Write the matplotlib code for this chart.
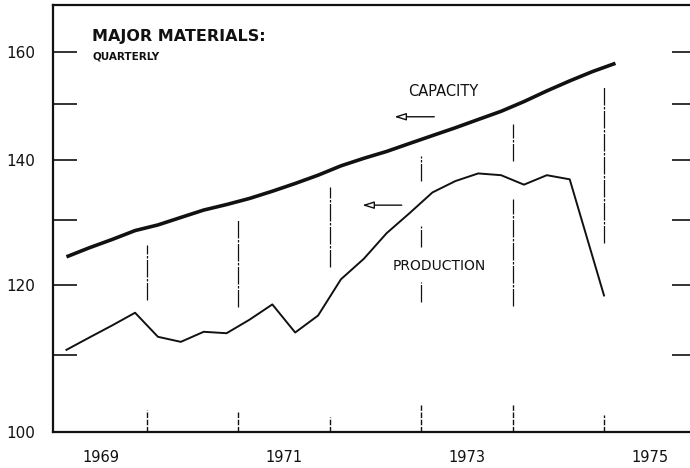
import numpy as np
import matplotlib.pyplot as plt
from matplotlib.ticker import FixedLocator, NullFormatter

# quarterly index values (log scale)
cap_x = [1969.125, 1969.375, 1969.625, 1969.875,
         1970.125, 1970.375, 1970.625, 1970.875,
         1971.125, 1971.375, 1971.625, 1971.875,
         1972.125, 1972.375, 1972.625, 1972.875,
         1973.125, 1973.375, 1973.625, 1973.875,
         1974.125, 1974.375, 1974.625, 1974.875,
         1975.125]
capacity = [124.2, 125.6, 126.9, 128.3,
            129.2, 130.4, 131.6, 132.5,
            133.5, 134.7, 136.0, 137.4,
            139.0, 140.3, 141.5, 142.9,
            144.3, 145.7, 147.2, 148.7,
            150.5, 152.5, 154.4, 156.2,
            157.8]

prod_x = [1969.125, 1969.375, 1969.625, 1969.875,
          1970.125, 1970.375, 1970.625, 1970.875,
          1971.125, 1971.375, 1971.625, 1971.875,
          1972.125, 1972.375, 1972.625, 1972.875,
          1973.125, 1973.375, 1973.625, 1973.875,
          1974.125, 1974.375, 1974.625, 1975.0]
production = [110.7, 112.4, 114.1, 115.9,
              112.5, 111.8, 113.2, 113.0,
              114.9, 117.1, 113.1, 115.5,
              120.8, 123.9, 127.9, 131.1,
              134.5, 136.4, 137.7, 137.4,
              135.8, 137.4, 136.7, 118.4]

# year guide lines drawn between / below the curves
guide_years = [1970, 1971, 1972, 1973, 1973, 1973, 1974, 1974, 1975]
guide_lo = [117.7, 116.7, 122.6, 136.4, 125.7, 117.4, 139.8, 116.9, 126.4]
guide_hi = [126.0, 130.0, 135.4, 140.7, 129.1, 120.4, 146.4, 133.4, 153.4]

# short year marks on the bottom axis
mark_years = [1970, 1971, 1972, 1973, 1974, 1975]
mark_top = [102.8, 102.6, 101.9, 103.4, 103.4, 102.1]

year_labels = ['1969', '1971', '1973', '1975']
year_label_pos = [1969.5, 1971.5, 1973.5, 1975.5]
y_major = [100, 120, 140, 160]
y_minor = [110, 130, 150]

ink = '#111111'
fig = plt.figure(figsize=(6.9, 4.68), dpi=100)
ax = fig.add_axes([0.0764, 0.0769, 0.9316, 0.9124])
ax.set_yscale('log')
ax.set_xlim(1968.975, 1976.0)
ax.set_ylim(100, 169.6)

ax.plot(cap_x, capacity, color=ink, lw=2.6, solid_capstyle='butt')
ax.plot(prod_x, production, color=ink, lw=1.4)

ax.vlines(guide_years, guide_lo, guide_hi, color=ink, lw=0.9,
          linestyles=[(0, (14, 1.2, 2, 1.2))])
ax.vlines(mark_years, 100, mark_top, color=ink, lw=1.0,
          linestyles=[(0, (4, 1.2))])

# arrows pointing to the left scale
arrow = dict(arrowstyle='-|>,head_length=0.7,head_width=0.22',
             fc='white', ec=ink, lw=1.0, shrinkA=0, shrinkB=0)
ax.annotate('', xy=(1972.708, 147.7), xytext=(1973.145, 147.7), arrowprops=arrow)
ax.annotate('', xy=(1972.358, 132.4), xytext=(1972.789, 132.4), arrowprops=arrow)

ax.text(1972.854, 152.4, 'CAPACITY', fontsize=10.5, va='center', color=ink)
ax.text(1972.686, 122.8, 'PRODUCTION', fontsize=10, va='center', color=ink)
ax.text(1969.408, 163.1, 'MAJOR MATERIALS:', fontsize=11.5, fontweight='bold',
        va='center', color=ink)
ax.text(1969.408, 159.1, 'QUARTERLY', fontsize=7.5, fontweight='bold',
        va='center', color=ink)

ax.yaxis.set_major_locator(FixedLocator(y_major))
ax.yaxis.set_minor_locator(FixedLocator(y_minor))
ax.yaxis.set_minor_formatter(NullFormatter())
ax.set_yticklabels([str(v) for v in y_major])
ax.tick_params(axis='y', which='both', direction='in', left=True, right=True,
               length=17, width=1.2, color=ink, pad=12.5, labelsize=11)

ax.set_xticks(year_label_pos, labels=year_labels)
ax.xaxis.set_minor_locator(FixedLocator([]))
ax.tick_params(axis='x', which='both', length=0, pad=13, labelsize=10.5)

for lab in ax.get_xticklabels() + ax.get_yticklabels():
    lab.set_color(ink)

for side in ['left', 'top', 'right', 'bottom']:
    ax.spines[side].set_linewidth(1.6)
    ax.spines[side].set_color(ink)

fig.savefig('out.png', dpi=100)
